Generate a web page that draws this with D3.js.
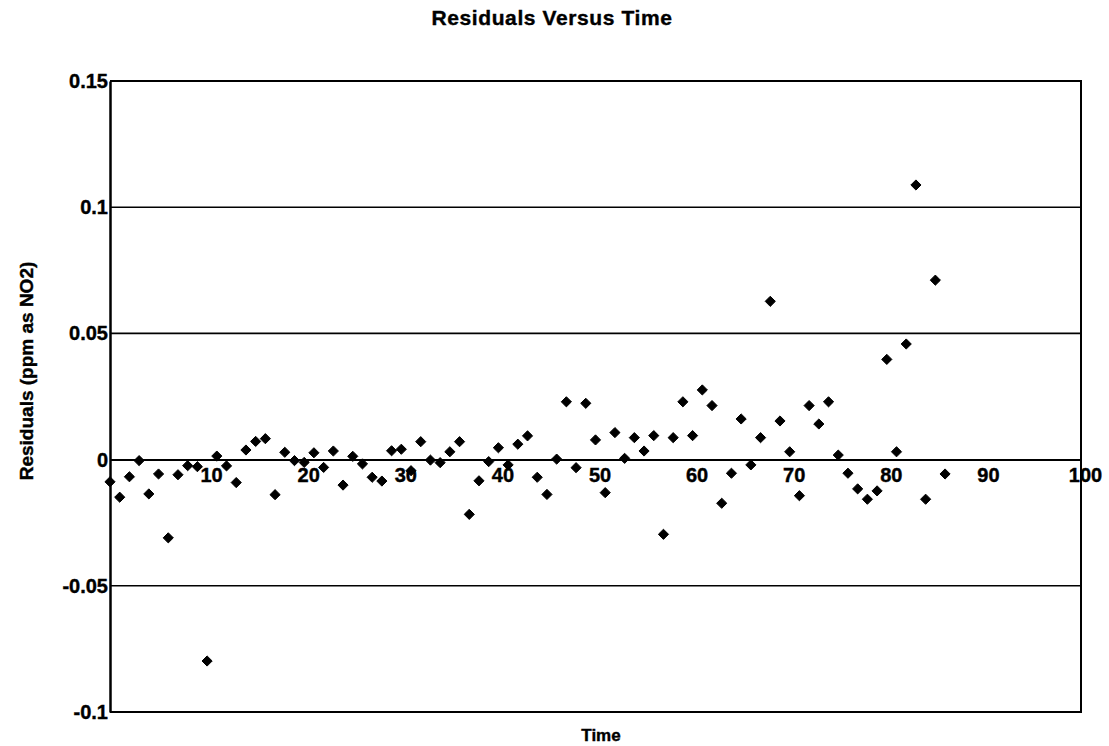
<!DOCTYPE html>
<html>
<head>
<meta charset="utf-8">
<script src="https://cdn.jsdelivr.net/npm/d3@7"></script>
<style>
  body { margin: 0; background: #fff; }
  svg text { font-family: "Liberation Sans", Arial, sans-serif; font-weight: bold; fill: #000; stroke: #000; stroke-width: 0.4px; }
</style>
</head>
<body>
<div class="chart"></div>
<script>
// time index of each observation
var times = [0, 1, 2, 3, 4, 5, 6, 7, 8, 9, 10, 11, 12, 13, 14, 15, 16, 17, 18, 19,
  20, 21, 22, 23, 24, 25, 26, 27, 28, 29, 30, 31, 32, 33, 34, 35, 36, 37, 38, 39,
  40, 41, 42, 43, 44, 45, 46, 47, 48, 49, 50, 51, 52, 53, 54, 55, 56, 57, 58, 59,
  60, 61, 62, 63, 64, 65, 66, 67, 68, 69, 70, 71, 72, 73, 74, 75, 76, 77, 78, 79,
  80, 81, 82, 83, 84, 85, 86]

// residuals, ppm as NO2
var residuals = [-0.0088, -0.0149, -0.0068, -0.0004, -0.0136, -0.0057, -0.0310, -0.0060, -0.0024, -0.0028,
  -0.0798, 0.0014, -0.0025, -0.0091, 0.0038, 0.0072, 0.0083, -0.0139, 0.0029, -0.0004,
  -0.0011, 0.0027, -0.0031, 0.0034, -0.0101, 0.0013, -0.0017, -0.0070, -0.0085, 0.0035,
  0.0041, -0.0044, 0.0071, -0.0002, -0.0012, 0.0031, 0.0071, -0.0217, -0.0084, -0.0008,
  0.0047, -0.0021, 0.0061, 0.0094, -0.0070, -0.0138, 0.0002, 0.0229, -0.0032, 0.0223,
  0.0078, -0.0131, 0.0107, 0.0005, 0.0087, 0.0034, 0.0095, -0.0296, 0.0087, 0.0229,
  0.0095, 0.0276, 0.0214, -0.0173, -0.0054, 0.0161, -0.0021, 0.0087, 0.0627, 0.0153,
  0.0031, -0.0143, 0.0214, 0.0141, 0.0229, 0.0018, -0.0054, -0.0116, -0.0157, -0.0124,
  0.0397, 0.0031, 0.0458, 0.1088, -0.0157, 0.0711, -0.0057]

var yTicks = [-0.1, -0.05, 0, 0.05, 0.1, 0.15]
var yTickLabels = ["-0.1", "-0.05", "0", "0.05", "0.1", "0.15"]
var xTicks = [10, 20, 30, 40, 50, 60, 70, 80, 90, 100]

var width = 1109,
    height = 746

var svg = d3.select(".chart").append("svg")
  .attr("width", width)
  .attr("height", height)

var x = d3.scaleLinear().domain([0, 100]).range([110, 1081]),
    y = d3.scaleLinear().domain([-0.1, 0.15]).range([712, 81])

// gridlines
svg.append("g")
  .selectAll("line")
  .data([-0.05, 0.05, 0.1])
  .enter()
  .append("line")
  .attr("x1", x(0)).attr("x2", x(100))
  .attr("y1", d => y(d)).attr("y2", d => y(d))
  .attr("stroke", "#000")
  .attr("stroke-width", 1.6)

// plot frame (top, right, bottom)
svg.append("path")
  .attr("d", `M${x(0)},${y(0.15)}H${x(100)}V${y(-0.1)}H${x(0)}`)
  .attr("fill", "none")
  .attr("stroke", "#000")
  .attr("stroke-width", 2)

// y axis
var yAxis = d3.axisLeft(y)
  .tickValues(yTicks)
  .tickFormat((d, i) => yTickLabels[i])
  .tickSize(0)
  .tickPadding(2)

var gy = svg.append("g")
  .attr("transform", `translate(${x(0)},0)`)
  .call(yAxis)
gy.select(".domain").attr("stroke", "#000").attr("stroke-width", 2.5)
gy.selectAll("text").attr("font-size", 20).attr("font-family", null)

// x axis, crossing at zero
var xAxis = d3.axisBottom(x)
  .tickValues(xTicks)
  .tickSize(0)
  .tickPadding(8)

var gx = svg.append("g")
  .attr("transform", `translate(0,${y(0)})`)
  .call(xAxis)
gx.select(".domain").attr("stroke", "#000").attr("stroke-width", 2)
gx.selectAll("text").attr("font-size", 20).attr("font-family", null).attr("dx", 4)

// points
var diamond = d3.symbol().type(d3.symbolDiamond2).size(66)

svg.append("g")
  .selectAll("path")
  .data(times)
  .enter()
  .append("path")
  .attr("d", diamond)
  .attr("transform", (d, i) => `translate(${x(d)},${y(residuals[i])})`)
  .attr("fill", "#000")
  .attr("stroke", "#000")
  .attr("stroke-width", 1)
  .attr("stroke-linejoin", "round")

// titles
svg.append("text")
  .attr("x", 552).attr("y", 25)
  .attr("text-anchor", "middle")
  .attr("font-size", 21)
  .attr("letter-spacing", 0.6)
  .text("Residuals Versus Time")

svg.append("text")
  .attr("transform", "translate(33,371) rotate(-90)")
  .attr("text-anchor", "middle")
  .attr("font-size", 19)
  .text("Residuals (ppm as NO2)")

svg.append("text")
  .attr("x", 601).attr("y", 741)
  .attr("text-anchor", "middle")
  .attr("font-size", 17)
  .text("Time")
</script>
</body>
</html>
